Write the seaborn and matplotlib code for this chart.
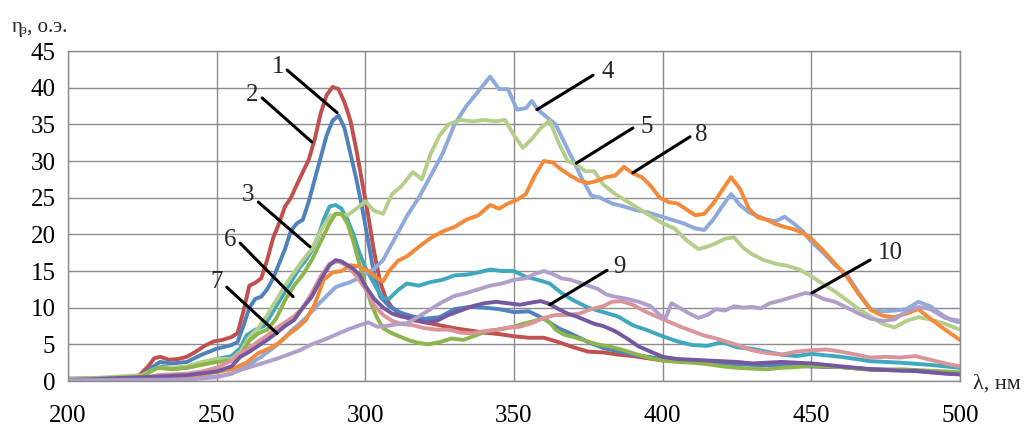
import pandas as pd
import seaborn as sns
import matplotlib.pyplot as plt

# Spectral curves (wavelength nm, eta o.e.)
curve1 = [(200, 0.3), (210, 0.3), (220, 0.4), (224, 0.8), (227, 2.0), (229, 3.1), (231, 3.3), (234, 2.9),
          (237, 3.0), (240, 3.3), (243, 4.0), (246, 4.8), (249, 5.4), (252, 5.6), (255, 6.0), (257, 6.5),
          (259, 9.5), (261, 13.0), (263, 13.4), (265, 14.0), (267, 16.5), (269, 19.5), (271, 21.5),
          (273, 23.8), (275, 25.0), (277, 26.8), (279, 28.5), (281, 30.2), (283, 33.0), (285, 36.5),
          (287, 39.0), (289, 40.1), (291, 39.8), (293, 38.0), (295, 35.5), (297, 31.5), (299, 27.0),
          (301, 22.5), (303, 17.5), (305, 13.5), (307, 11.2), (309, 10.0), (312, 9.0), (316, 8.3),
          (320, 8.0), (325, 7.6), (330, 7.2), (335, 6.9), (340, 6.6), (345, 6.4), (350, 6.1), (355, 5.9),
          (360, 5.9), (365, 5.3), (370, 4.6), (375, 4.0), (380, 3.9), (385, 3.6), (390, 3.4), (395, 3.1),
          (400, 2.8), (410, 2.6), (420, 2.4), (430, 2.3), (440, 2.1), (450, 2.0), (460, 1.9), (470, 1.6),
          (480, 1.5), (490, 1.3), (500, 1.1)]
curve2 = [(200, 0.3), (220, 0.4), (225, 0.7), (228, 1.8), (231, 2.6), (235, 2.4), (240, 2.6), (245, 3.6),
          (250, 4.4), (255, 4.9), (257, 5.3), (259, 7.5), (261, 10.0), (263, 11.2), (265, 11.5), (267, 12.5),
          (269, 14.0), (271, 16.0), (273, 18.0), (275, 20.5), (277, 21.5), (279, 22.0), (281, 24.5),
          (283, 27.5), (285, 30.5), (287, 33.5), (289, 35.5), (291, 36.2), (293, 34.5), (295, 31.0),
          (297, 27.5), (299, 23.5), (301, 19.0), (303, 14.5), (305, 11.5), (308, 10.2), (312, 9.3),
          (316, 8.8), (320, 8.5), (325, 8.7), (330, 9.8), (335, 10.1), (340, 10.0), (345, 9.8), (350, 9.4),
          (355, 9.5), (360, 8.5), (365, 7.2), (370, 6.3), (375, 5.3), (380, 4.5), (390, 3.6), (400, 3.0),
          (410, 2.6), (420, 2.5), (430, 2.2), (440, 2.1), (450, 2.0), (460, 1.9), (470, 1.6), (480, 1.5),
          (490, 1.2), (500, 1.0)]
curve3 = [(200, 0.3), (220, 0.4), (225, 0.6), (228, 1.5), (232, 2.0), (236, 1.7), (240, 1.8), (245, 2.4),
          (250, 3.0), (255, 3.4), (258, 4.5), (260, 6.2), (263, 7.0), (266, 7.5), (269, 9.5), (272, 11.5),
          (275, 13.5), (278, 15.5), (280, 16.5), (282, 17.8), (284, 19.5), (286, 22.0), (288, 23.8),
          (290, 24.0), (292, 23.5), (294, 22.0), (296, 20.0), (298, 17.5), (300, 15.5), (302, 14.0),
          (304, 12.5), (306, 11.3), (308, 11.2), (311, 12.4), (314, 13.3), (318, 13.0), (322, 13.5),
          (326, 13.8), (330, 14.4), (334, 14.5), (338, 14.8), (342, 15.2), (346, 15.0), (350, 15.0),
          (354, 14.2), (358, 13.8), (362, 13.3), (366, 12.0), (370, 11.0), (375, 10.0), (380, 9.4),
          (385, 8.8), (390, 7.6), (395, 6.9), (400, 6.1), (405, 5.4), (410, 4.9), (415, 4.8), (420, 5.3),
          (425, 4.6), (430, 4.4), (435, 4.0), (440, 3.6), (445, 3.4), (450, 3.7), (460, 3.3), (470, 2.7),
          (480, 2.5), (490, 2.2), (500, 1.8)]
curve4 = [(200, 0.2), (230, 0.3), (240, 0.4), (250, 0.6), (255, 1.0), (260, 2.0), (265, 3.3), (270, 4.8),
          (275, 6.8), (280, 8.6), (285, 10.8), (290, 12.8), (295, 13.5), (299, 14.3), (303, 15.3),
          (306, 16.5), (310, 19.5), (314, 22.5), (318, 25.0), (322, 28.0), (326, 31.0), (330, 35.0),
          (334, 37.5), (338, 39.5), (342, 41.5), (345, 39.8), (348, 39.8), (351, 37.0), (354, 37.2),
          (356, 38.2), (358, 37.0), (361, 36.0), (364, 35.0), (367, 32.5), (370, 30.0), (373, 27.5),
          (376, 25.3), (379, 25.0), (383, 24.2), (387, 23.8), (391, 23.3), (395, 23.0), (399, 22.5),
          (403, 22.0), (407, 21.5), (411, 20.8), (414, 20.6), (417, 22.0), (420, 23.8), (423, 25.5),
          (426, 24.0), (429, 23.0), (432, 22.5), (435, 22.0), (438, 21.8), (441, 22.4), (444, 21.5),
          (447, 20.5), (450, 19.0), (454, 17.5), (458, 15.8), (462, 14.5), (466, 12.0), (470, 9.8),
          (474, 9.5), (478, 9.6), (482, 9.8), (486, 10.8), (490, 10.2), (494, 9.0), (497, 8.3), (500, 8.0)]
curve5 = [(200, 0.2), (225, 0.8), (230, 1.8), (235, 1.8), (240, 2.0), (245, 2.6), (250, 3.0), (255, 3.0),
          (258, 4.0), (261, 6.0), (264, 7.2), (267, 9.0), (270, 11.0), (273, 13.0), (276, 14.8), (279, 16.5),
          (282, 18.0), (285, 20.5), (288, 22.5), (291, 22.8), (294, 22.6), (297, 23.5), (300, 24.5),
          (303, 23.2), (306, 22.8), (309, 25.5), (312, 26.5), (316, 28.5), (319, 27.5), (322, 31.0),
          (325, 33.5), (328, 35.0), (332, 35.6), (336, 35.4), (340, 35.6), (344, 35.4), (347, 35.6),
          (350, 33.5), (353, 31.8), (356, 33.0), (359, 34.5), (362, 35.5), (365, 32.5), (368, 30.0),
          (371, 29.5), (374, 28.6), (377, 28.6), (380, 26.8), (384, 25.5), (388, 24.5), (392, 23.5),
          (396, 22.5), (400, 21.5), (404, 20.8), (408, 19.2), (412, 18.0), (415, 18.3), (418, 18.8),
          (421, 19.4), (424, 19.6), (427, 18.2), (430, 17.3), (434, 16.5), (438, 16.0), (442, 15.7),
          (446, 15.2), (450, 14.3), (454, 13.2), (458, 12.2), (462, 11.0), (466, 9.8), (470, 8.8),
          (474, 7.8), (478, 7.3), (482, 8.2), (486, 8.7), (490, 8.4), (495, 7.8), (500, 7.0)]
curve6 = [(200, 0.2), (225, 0.6), (230, 1.8), (235, 1.6), (240, 1.8), (245, 2.2), (250, 2.6), (255, 2.8),
          (258, 3.5), (261, 5.5), (264, 6.5), (267, 7.0), (270, 8.5), (273, 11.0), (276, 13.0), (279, 14.5),
          (282, 16.5), (285, 19.0), (288, 21.5), (290, 22.8), (292, 22.8), (294, 21.5), (296, 19.0),
          (298, 16.0), (300, 13.0), (302, 10.5), (304, 8.6), (306, 7.2), (309, 6.5), (312, 6.0), (315, 5.5),
          (318, 5.2), (321, 5.0), (325, 5.3), (329, 5.8), (333, 5.6), (337, 6.2), (341, 6.8), (345, 7.0),
          (349, 7.3), (353, 7.8), (357, 8.2), (360, 8.6), (362, 8.0), (364, 7.0), (367, 6.3), (370, 6.0),
          (374, 5.5), (378, 5.0), (382, 4.7), (386, 4.3), (390, 3.8), (395, 3.2), (400, 2.8), (405, 2.6),
          (410, 2.5), (415, 2.3), (420, 2.0), (425, 1.8), (430, 1.7), (435, 1.6), (440, 1.8), (445, 1.9),
          (450, 2.1), (455, 2.0), (460, 1.9), (465, 1.7), (470, 1.5), (475, 1.5), (480, 1.6), (485, 1.5),
          (490, 1.4), (495, 1.3), (500, 1.2)]
curve7 = [(200, 0.2), (225, 0.3), (230, 0.8), (235, 0.9), (240, 1.0), (245, 1.3), (250, 1.8), (255, 2.8),
          (258, 3.8), (261, 4.5), (264, 5.4), (267, 6.2), (270, 7.2), (273, 8.0), (276, 8.8), (279, 10.0),
          (282, 12.0), (285, 14.3), (288, 16.0), (291, 16.3), (294, 15.7), (297, 14.3), (300, 12.6),
          (303, 10.3), (306, 9.0), (309, 8.2), (312, 7.8), (316, 7.6), (320, 7.2), (324, 7.0), (328, 7.0),
          (332, 6.6), (336, 6.5), (340, 6.8), (344, 7.0), (348, 7.3), (352, 7.4), (356, 7.9), (360, 8.6),
          (364, 9.0), (368, 9.0), (372, 9.2), (376, 9.8), (380, 10.2), (383, 10.8), (386, 10.9), (390, 10.4),
          (394, 9.5), (398, 8.8), (402, 8.1), (406, 7.4), (410, 6.8), (414, 6.2), (418, 5.8), (422, 5.3),
          (426, 4.8), (430, 4.2), (435, 3.8), (440, 3.6), (445, 4.0), (450, 4.2), (455, 4.3), (460, 4.0),
          (465, 3.6), (470, 3.2), (475, 3.3), (480, 3.2), (485, 3.4), (490, 2.9), (495, 2.4), (500, 2.0)]
curve8 = [(200, 0.1), (230, 0.4), (240, 0.7), (250, 1.2), (255, 1.6), (260, 2.5), (264, 3.8), (268, 4.5),
          (271, 5.2), (274, 6.3), (277, 7.2), (280, 8.3), (283, 10.5), (286, 13.8), (289, 14.8), (292, 15.0),
          (295, 15.8), (298, 15.6), (301, 15.0), (304, 14.0), (306, 13.6), (308, 15.0), (311, 16.4),
          (314, 17.0), (318, 18.3), (322, 19.5), (326, 20.4), (330, 21.0), (334, 22.0), (338, 22.6),
          (342, 24.0), (345, 23.5), (348, 24.2), (351, 24.7), (354, 25.5), (357, 28.0), (360, 30.0),
          (363, 29.8), (366, 28.8), (369, 28.0), (372, 27.3), (375, 27.0), (378, 27.3), (381, 27.8),
          (384, 28.0), (387, 29.2), (390, 28.3), (393, 27.8), (396, 26.6), (399, 25.0), (402, 24.4),
          (405, 24.2), (408, 23.4), (411, 22.6), (414, 22.8), (417, 24.2), (420, 26.0), (423, 27.8),
          (426, 26.2), (429, 23.5), (432, 22.3), (435, 22.0), (438, 21.4), (441, 21.0), (444, 20.7),
          (447, 20.2), (450, 19.4), (454, 17.8), (458, 16.0), (462, 14.2), (466, 11.8), (470, 9.7),
          (474, 8.9), (478, 8.7), (482, 9.2), (486, 9.8), (490, 8.5), (495, 7.0), (500, 5.6)]
curve9 = [(200, 0.1), (230, 0.6), (240, 0.8), (250, 1.3), (255, 2.0), (258, 3.3), (261, 4.0), (264, 4.8),
          (267, 5.6), (270, 6.5), (273, 7.5), (276, 8.3), (279, 10.0), (282, 11.5), (285, 13.8), (288, 15.8),
          (290, 16.5), (292, 16.3), (294, 15.8), (296, 15.3), (298, 14.5), (300, 13.0), (303, 11.2),
          (306, 10.0), (309, 9.2), (312, 8.8), (316, 8.5), (320, 8.0), (324, 8.2), (328, 9.0), (332, 9.6),
          (336, 10.2), (340, 10.6), (344, 10.8), (348, 10.6), (352, 10.4), (356, 10.7), (359, 10.9),
          (362, 10.5), (365, 9.8), (368, 9.2), (371, 8.8), (374, 8.3), (377, 7.8), (380, 7.5), (384, 6.8),
          (388, 5.8), (392, 4.7), (396, 4.0), (400, 3.3), (405, 3.0), (410, 2.9), (415, 2.8), (420, 2.7),
          (425, 2.6), (430, 2.4), (435, 2.5), (440, 2.6), (445, 2.5), (450, 2.4), (455, 2.2), (460, 2.0),
          (465, 1.8), (470, 1.6), (475, 1.5), (480, 1.4), (485, 1.4), (490, 1.2), (495, 1.0), (500, 0.9)]
curve10 = [(200, 0.1), (240, 0.2), (250, 0.5), (255, 1.0), (258, 1.5), (262, 2.0), (266, 2.5), (270, 3.0),
           (274, 3.6), (278, 4.2), (282, 5.0), (286, 5.6), (290, 6.3), (294, 7.0), (298, 7.6), (301, 8.0),
           (304, 7.4), (307, 7.5), (310, 7.7), (314, 7.9), (318, 8.8), (322, 9.8), (326, 10.8), (330, 11.6),
           (334, 12.0), (338, 12.5), (342, 13.0), (346, 13.3), (350, 13.8), (354, 14.0), (357, 14.6),
           (360, 15.0), (363, 14.6), (366, 14.0), (369, 13.8), (372, 13.4), (375, 13.0), (378, 12.6),
           (381, 11.8), (384, 11.5), (388, 11.2), (392, 10.8), (396, 10.2), (399, 9.0), (401, 8.6),
           (403, 10.6), (406, 9.9), (409, 9.2), (412, 8.6), (415, 9.0), (418, 9.8), (421, 9.6), (424, 10.2),
           (427, 10.0), (430, 10.1), (433, 9.9), (436, 10.6), (440, 11.0), (444, 11.5), (448, 12.0),
           (451, 11.8), (454, 11.2), (458, 10.8), (462, 10.0), (466, 9.2), (470, 8.5), (474, 8.2),
           (478, 8.4), (482, 9.5), (486, 10.1), (490, 9.8), (495, 8.6), (500, 8.2)]

curve_names = ["1", "2", "3", "4", "5", "6", "7", "8", "9", "10"]
curve_colors = ["#C0504D", "#4F81BD", "#3FA7BE", "#8EA9DB", "#B6CE8C",
                "#8DB54B", "#DB949A", "#F28A3A", "#7458A0", "#B09FCB"]
curves = [curve1, curve2, curve3, curve4, curve5, curve6, curve7, curve8, curve9, curve10]

frames = []
for name, c in zip(curve_names, curves):
    frames.append(pd.DataFrame(c, columns=["wl", "eta"]).assign(curve=name))
df = pd.concat(frames, ignore_index=True)

sns.set_style("white")
plt.rcParams["font.family"] = ["Liberation Serif", "DejaVu Serif"]

fig = plt.figure(figsize=(10.33, 4.25), dpi=100)
ax = fig.add_axes([0.0658, 0.1035, 0.8635, 0.7765])

sns.lineplot(data=df, x="wl", y="eta", hue="curve", hue_order=curve_names,
             palette=dict(zip(curve_names, curve_colors)), estimator=None, sort=False,
             linewidth=2.8, legend=False, ax=ax)
for line in ax.lines:
    line.set_solid_joinstyle("round")

ax.set_xlim(200, 500)
ax.set_ylim(0, 45)
ax.set_xticks(range(200, 501, 50))
ax.set_yticks(range(0, 46, 5))
ax.grid(True, color="#8c8c8c", linewidth=1.0)
ax.set_axisbelow(True)
for s in ax.spines.values():
    s.set_color("#8c8c8c")
    s.set_linewidth(1.0)
ax.tick_params(axis="both", labelsize=18, colors="#8c8c8c", labelcolor="black",
               length=6, width=1.0, direction="out")
ax.tick_params(axis="x", pad=11)
ax.tick_params(axis="y", pad=3)
ax.set_xlabel("")
ax.set_ylabel("")

# curve labels with leader lines: (text x, text y, line start, line end)
callouts = [("1", (270.6, 42.8), (273.7, 42.4), (290.5, 36.6)),
            ("2", (261.9, 39.0), (265.3, 38.6), (282.0, 32.6)),
            ("3", (260.6, 25.4), (264.0, 24.4), (281.4, 18.3)),
            ("6", (254.5, 19.2), (257.9, 18.8), (275.7, 11.5)),
            ("7", (250.0, 13.5), (253.4, 12.8), (270.3, 6.5)),
            ("4", (381.5, 42.2), (376.6, 41.7), (357.7, 37.0)),
            ("5", (394.5, 34.7), (390.0, 34.5), (371.0, 29.7)),
            ("8", (413.0, 33.6), (409.2, 33.3), (390.0, 28.4)),
            ("9", (385.5, 15.6), (381.3, 15.1), (362.0, 10.4)),
            ("10", (476.5, 17.5), (469.8, 16.5), (450.2, 12.0))]
for txt, tpos, p0, p1 in callouts:
    ax.plot([p0[0], p1[0]], [p0[1], p1[1]], color="black", linewidth=2.2, zorder=5)
    ax.text(tpos[0], tpos[1], txt, fontsize=18, ha="center", va="center", zorder=6)

# axis titles
fig.text(12 / 1033, 1 - 32 / 425, "η", fontsize=15, va="baseline")
fig.text(21 / 1033, 1 - 34 / 425, "э", fontsize=10, va="baseline")
fig.text(27 / 1033, 1 - 32 / 425, ", о.э.", fontsize=15, va="baseline")
fig.text(973 / 1033, 1 - 389 / 425, "λ, нм", fontsize=16, va="baseline")

fig.savefig("out.png", dpi=100)
